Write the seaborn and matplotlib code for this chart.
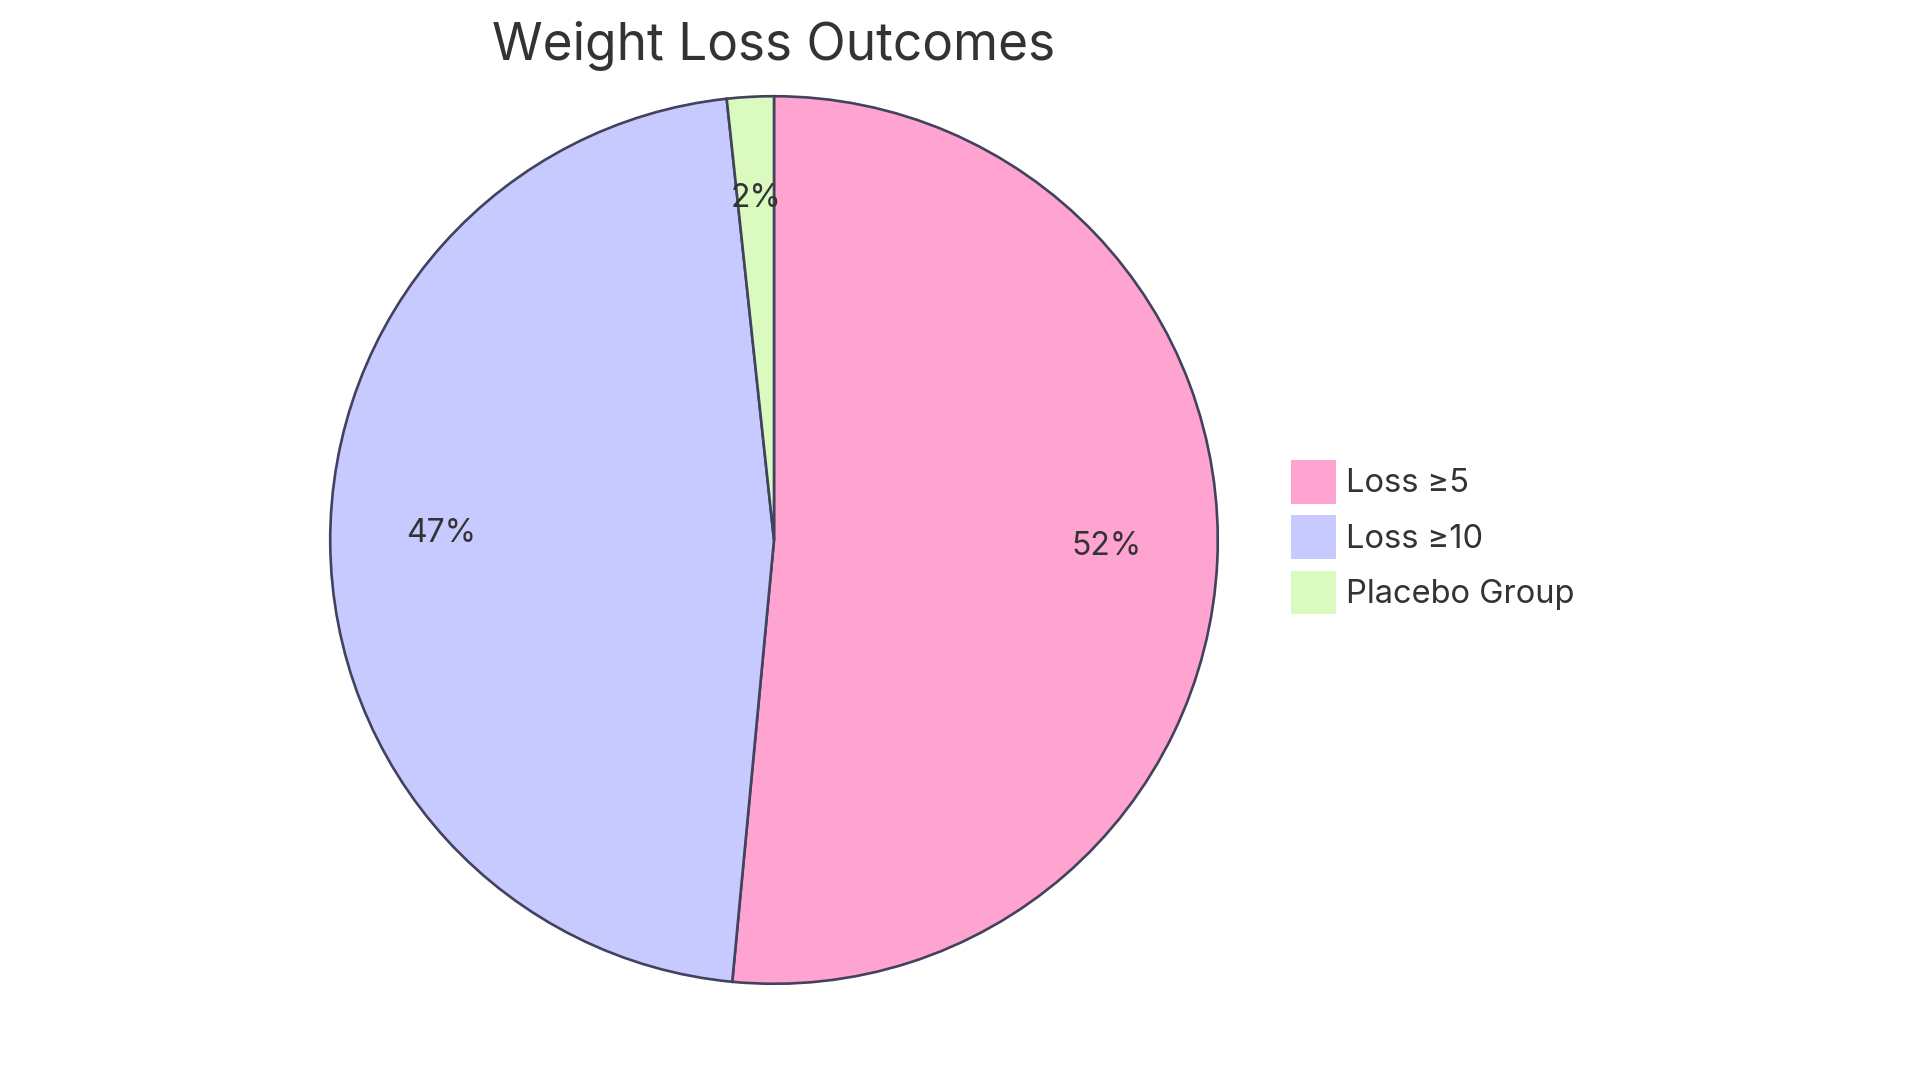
import matplotlib.pyplot as plt
import seaborn as sns

# chart data
labels = ["Loss ≥5", "Loss ≥10", "Placebo Group"]
shares = [51.5, 46.8, 1.7]
colors = ["#FFA3D0", "#C7CAFF", "#DAFAC0"]

sns.set_theme(style="white")
plt.rcParams['font.family'] = ['Inter', 'DejaVu Sans']

W, H = 1920, 1083
fig = plt.figure(figsize=(W / 100, H / 100), dpi=100)

# pie axes: centre and radius in pixels
cx, cy, r = 774, 540, 446
ax = fig.add_axes([(cx - r) / W, (H - cy - r) / H, 2 * r / W, 2 * r / H])

wedges, texts, autotexts = ax.pie(
    shares,
    colors=sns.color_palette(colors),
    startangle=90,
    counterclock=False,
    radius=1,
    autopct=lambda p: f"{p:.0f}%",
    pctdistance=0.75,
    wedgeprops=dict(edgecolor="#42425E", linewidth=1.9),
    textprops=dict(fontsize=23, color="#333333"),
)
# labels sit a little higher than the exact 0.75 radius point
for t in autotexts:
    x, y = t.get_position()
    t.set_position((x, y + 0.02))
ax.set_xlim(-1.005, 1.005)
ax.set_ylim(-1.005, 1.005)
ax.set_aspect("equal")
ax.axis("off")

fig.text(774 / W, 1 - 46 / H, "Weight Loss Outcomes", ha="center", va="center",
         fontsize=37, color="#333333")

leg = fig.legend(
    wedges, labels,
    loc="upper left",
    bbox_to_anchor=(1291 / W, 1 - 460 / H),
    frameon=False,
    fontsize=23.5,
    handlelength=1.37,
    handleheight=1.68,
    handletextpad=0.3,
    labelspacing=0.36,
    borderaxespad=0,
    borderpad=0,
)
for t in leg.get_texts():
    t.set_color("#333333")
for h in leg.legend_handles:
    h.set_edgecolor("none")

fig.savefig("out.png", dpi=100, facecolor="white")
